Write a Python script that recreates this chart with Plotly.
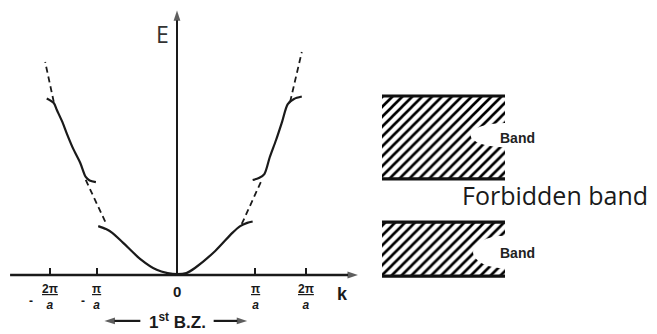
import plotly.graph_objects as go

# ---------------- data (k in units of pi/a as drawn, E in arbitrary units) -------------
# first band (solid), through k = 0
B1_K = [-1.01, -0.91, -0.83, -0.69, -0.47, -0.26, -0.12, 0.0, 0.12, 0.23, 0.49, 0.71, 0.81, 0.90, 0.97]
B1_E = [1.81, 1.70, 1.56, 1.19, 0.59, 0.19, 0.07, 0.03, 0.07, 0.26, 0.89, 1.56, 1.81, 1.93, 1.98]
# second band, right branch (solid)
B2R_K = [0.97, 1.05, 1.12, 1.19, 1.27, 1.35, 1.42, 1.50, 1.60]
B2R_E = [3.52, 3.59, 3.74, 4.37, 5.00, 5.70, 6.33, 6.52, 6.61]
# second band, left branch (solid)
B2L_K = [-1.04, -1.12, -1.17, -1.24, -1.33, -1.41, -1.47, -1.54, -1.58, -1.67]
B2L_E = [3.44, 3.50, 3.63, 4.15, 4.67, 5.22, 5.67, 6.11, 6.37, 6.54]
# free-electron parabola pieces (dashed)
FREE_LEFT_TOP_K = [-1.58, -1.69]
FREE_LEFT_TOP_E = [6.41, 7.89]
FREE_LEFT_GAP_K = [-1.17, -0.90]
FREE_LEFT_GAP_E = [3.52, 1.85]
FREE_RIGHT_GAP_K = [0.83, 1.09]
FREE_RIGHT_GAP_E = [1.89, 3.54]
FREE_RIGHT_TOP_K = [1.45, 1.60]
FREE_RIGHT_TOP_E = [6.41, 8.26]

# axis ticks
K_TICKS = [-1.63, -1.03, 0.0, 1.0, 1.65]
TICK_NUM = ["2π", "π", "0", "π", "2π"]
TICK_DEN = ["a", "a", "", "a", "a"]
TICK_SIGN = ["-", "-", "", "", ""]
K_AXIS = [-2.14, 2.32]
E_AXIS_TOP = 9.8
BZ_HEAD_K = [-0.93, 0.90]
BZ_TAIL_K = [-0.47, 0.47]
BZ_E = -1.70

# band diagram (right)
BAND_LOWER = [-0.04, 1.96]
BAND_UPPER = [3.56, 6.63]
BAND_LABELS = ["Band", "Band"]
BAND_LABEL_E = [0.80, 5.07]
GAP_LABEL = "Forbidden band"
GAP_LABEL_E = 2.96

# ---------------- page geometry -------------
# the browser page keeps its default 8px body margin, so the figure is drawn
# 8px in from the top-left corner of the window
OFF = 8
W, H = 657 - OFF, 334 - OFF
K0_PX, PX_PER_K = 177, 78       # k = 0 column and px per pi/a (reference pixels)
E0_PX, PX_PER_E = 275, 27       # E = 0 row and px per energy unit
SPLIT_PX = 382                  # left edge of the band diagram
BAND_W_PX = 123                 # width of the band diagram rectangles

INK = "#1a1a1a"
SANS = "Liberation Sans"

fig = go.Figure()

# solid bands
for kx, ey in [(B1_K, B1_E), (B2R_K, B2R_E), (B2L_K, B2L_E)]:
    fig.add_trace(go.Scatter(x=kx, y=ey, mode="lines", xaxis="x", yaxis="y",
                             line=dict(color=INK, width=2.2, shape="spline", smoothing=0.8),
                             hoverinfo="skip", showlegend=False))
# dashed free-electron pieces
for kx, ey in [(FREE_LEFT_TOP_K, FREE_LEFT_TOP_E), (FREE_LEFT_GAP_K, FREE_LEFT_GAP_E),
               (FREE_RIGHT_GAP_K, FREE_RIGHT_GAP_E), (FREE_RIGHT_TOP_K, FREE_RIGHT_TOP_E)]:
    fig.add_trace(go.Scatter(x=kx, y=ey, mode="lines", xaxis="x", yaxis="y",
                             line=dict(color=INK, width=1.8, dash="6px,4px"),
                             hoverinfo="skip", showlegend=False))

# axes with arrowheads
arrow_lines = [
    ([K_AXIS[0], K_AXIS[1]], [0, 0], 2.4),
    ([0, 0], [0, E_AXIS_TOP], 2.0),
]
for i in range(2):
    arrow_lines.append(([BZ_TAIL_K[i], BZ_HEAD_K[i]], [BZ_E, BZ_E], 2.2))
for xs, ys, w in arrow_lines:
    fig.add_trace(go.Scatter(x=xs, y=ys, mode="lines+markers", xaxis="x", yaxis="y",
                             line=dict(color=INK, width=w),
                             marker=dict(symbol="arrow", size=[0, 11], angleref="previous",
                                         color=INK, line=dict(width=0)),
                             cliponaxis=False, hoverinfo="skip", showlegend=False))

# hatched band rectangles
for lo, hi in [BAND_LOWER, BAND_UPPER]:
    fig.add_trace(go.Scatter(x=[0, 1, 1, 0, 0], y=[lo, lo, hi, hi, lo], mode="lines",
                             xaxis="x2", yaxis="y", fill="toself",
                             fillpattern=dict(shape="/", fgcolor="#000000", bgcolor="white",
                                              fgopacity=1, size=7, solidity=0.38),
                             line=dict(width=0, color="rgba(0,0,0,0)"),
                             hoverinfo="skip", showlegend=False))
shapes = []
# white notches where the "Band" labels sit
for ec, ry, rx in [(BAND_LABEL_E[1] + 0.11, 0.45, 0.28), (BAND_LABEL_E[0] + 0.05, 0.6, 0.26)]:
    shapes.append(dict(type="circle", xref="x2", yref="y", x0=1 - rx, x1=1 + rx,
                       y0=ec - ry, y1=ec + ry, fillcolor="white", line=dict(width=0),
                       layer="above"))
# band edge lines
for lo, hi in [BAND_LOWER, BAND_UPPER]:
    for e in (lo, hi):
        fig.add_trace(go.Scatter(x=[0, 1], y=[e, e], mode="lines", xaxis="x2", yaxis="y",
                                 line=dict(color="#111111", width=3.2),
                                 hoverinfo="skip", showlegend=False))

ann = []
ann.append(dict(x=-0.19, y=8.93, xref="x", yref="y", text="E", showarrow=False,
                font=dict(family="Open Sans", size=23, color="#333333")))
ann.append(dict(x=2.12, y=-0.70, xref="x", yref="y", text="<b>k</b>", showarrow=False,
                font=dict(family=SANS, size=18, color=INK)))
# tick labels as stacked fractions
LABEL_TOP_E = -0.22
for kv, num, den, sg in zip(K_TICKS, TICK_NUM, TICK_DEN, TICK_SIGN):
    if den:
        ann.append(dict(x=kv, y=LABEL_TOP_E, xref="x", yref="y", yanchor="top",
                        text="<b><u>" + num + "</u><br><i>" + den + "</i></b>",
                        showarrow=False, borderpad=0,
                        font=dict(family=SANS, size=12, color=INK)))
    else:
        ann.append(dict(x=kv, y=LABEL_TOP_E, xref="x", yref="y", yanchor="top",
                        text="<b>" + num + "</b>", showarrow=False,
                        font=dict(family=SANS, size=15, color=INK)))
    if sg:
        ann.append(dict(x=kv, y=-0.95, xref="x", yref="y", text="<b>" + sg + "</b>",
                        xshift=-19 if len(num) > 1 else -14, showarrow=False, borderpad=0,
                        font=dict(family=SANS, size=12, color=INK)))
ann.append(dict(x=0.0, y=BZ_E, xref="x", yref="y", text="<b>1<sup>st</sup> B.Z.</b>",
                showarrow=False, font=dict(family=SANS, size=17, color=INK)))
# band diagram labels
for lab, e in zip(BAND_LABELS, BAND_LABEL_E):
    ann.append(dict(x=0.94, y=e, xref="x2", yref="y", text="<b>" + lab + "</b>", xanchor="left",
                    showarrow=False, font=dict(family=SANS, size=14, color="#222222")))
ann.append(dict(x=0.634, y=GAP_LABEL_E, xref="x2", yref="y", text=GAP_LABEL, xanchor="left",
                showarrow=False, font=dict(family="Open Sans", size=25, color="#1a1a1a")))

fig.update_layout(
    width=W, height=H, margin=dict(l=0, r=0, t=0, b=0),
    paper_bgcolor="white", plot_bgcolor="rgba(0,0,0,0)",
    showlegend=False,
    xaxis=dict(domain=[0, (SPLIT_PX - OFF) / W],
               range=[(OFF - K0_PX) / PX_PER_K, (SPLIT_PX - K0_PX) / PX_PER_K],
               anchor="free", position=(334 - E0_PX) / H,
               showgrid=False, zeroline=False, showline=False, showticklabels=False,
               ticks="inside", ticklen=7, tickwidth=1.6, tickcolor=INK, tickvals=K_TICKS,
               fixedrange=True),
    xaxis2=dict(domain=[(SPLIT_PX - OFF) / W, 1], range=[0, (657 - SPLIT_PX) / BAND_W_PX],
                anchor="y", visible=False, fixedrange=True),
    yaxis=dict(domain=[0, 1], range=[(E0_PX - 334) / PX_PER_E, (E0_PX - OFF) / PX_PER_E],
               visible=False, fixedrange=True),
    shapes=shapes,
    annotations=ann,
)

fig.write_html("out.html")
